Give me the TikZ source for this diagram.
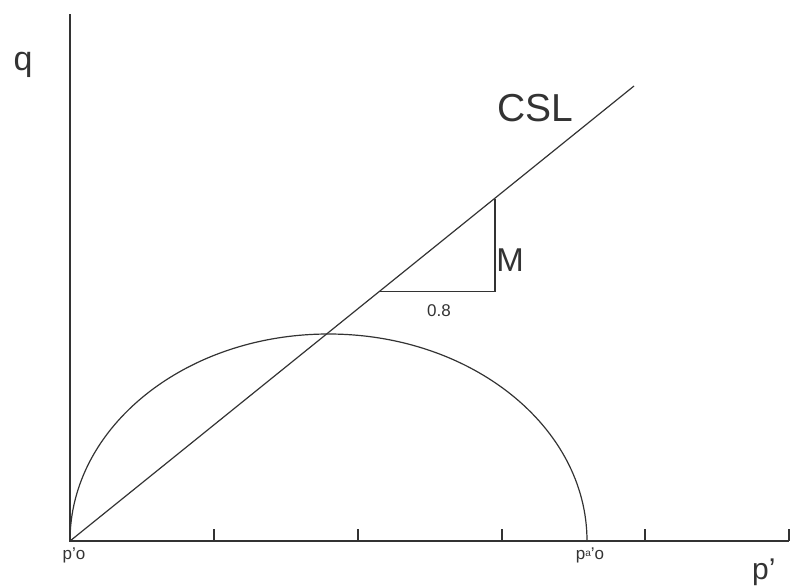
\documentclass[tikz,border=0pt]{standalone}
\usepackage{fontspec}
\setmainfont{Liberation Sans}
\begin{document}
\begin{tikzpicture}[x=1pt,y=-1pt,
  axis/.style={draw=black!80,line width=1.8pt},
  thin/.style={draw=black!80,line width=1.2pt},
  lbl/.style={inner sep=0pt,text=black!80}]
\useasboundingbox (0,0) rectangle (791,587);
% axes
\coordinate (O) at (70,541);
\coordinate (Qtop) at (70,14);
\coordinate (Pend) at (789,541);
\draw[axis] (Qtop) -- (O) -- (Pend);
% ticks
\foreach \x in {214,358,502,645,789}{
  \draw[axis,line width=1.4pt] (\x,541) -- (\x,529);
}
% half ellipse (yield surface)
\draw[thin] (587,541) arc[start angle=0,end angle=-180,x radius=258.5,y radius=207];
% CSL
\coordinate (Cend) at (634,86);
\draw[thin] (O) -- (Cend);
% slope triangle
\coordinate (T1) at (380,291.5);
\coordinate (T2) at (495,291.5);
\coordinate (T3) at (495,198.5);
\draw[thin] (T1) -- (T2) -- (T3);
% labels
\node[lbl,anchor=base] (q) at (23,70) {\fontsize{34}{34}\selectfont q};
\node[lbl,anchor=base] (csl) at (535,121) {\fontsize{39}{39}\selectfont CSL};
\node[lbl,anchor=base] (m) at (510,271) {\fontsize{33}{33}\selectfont M};
\node[lbl,anchor=base] (s) at (439,316) {\fontsize{17}{17}\selectfont 0.8};
\node[lbl,anchor=base] (po) at (74,559) {\fontsize{17}{17}\selectfont p'o};
\node[lbl,anchor=base] (pao) at (590,559) {\fontsize{17}{17}\selectfont p\raisebox{3pt}{\fontsize{10}{10}\selectfont a}'o};
\node[lbl,anchor=base west] (pp) at (752,579) {\fontsize{30}{30}\selectfont p'};
\end{tikzpicture}
\end{document}
